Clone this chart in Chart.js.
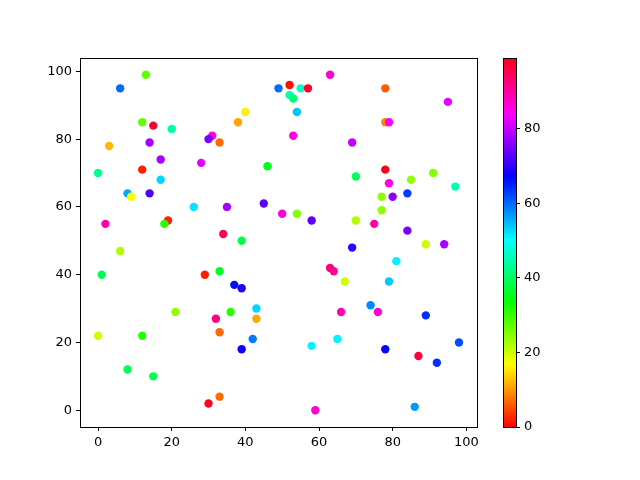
<!DOCTYPE html>
<html><head><meta charset="utf-8">
<script src="https://cdn.jsdelivr.net/npm/chart.js@4/dist/chart.umd.min.js"></script>
<style>
html,body{margin:0;padding:0;background:#fff;}
#wrap{position:relative;width:640px;height:480px;}
canvas{position:absolute;left:0;top:0;}
</style></head>
<body><div id="wrap"><canvas id="main" width="640" height="480"></canvas><canvas id="cb" width="640" height="480"></canvas></div>
<script>
const xs = [13,63,52,6,49,55,57,78,52,53,95,54,40,12,15,38,78,79,20,31,30,53,3,14,33,69,17,28,46,12,78,0,70,91,17,85,79,97,8,9,14,84,77,80,45,26,35,77,50,54,58,19,18,2,70,75,84,34,39,89,94,69,6,81,63,64,33,1,29,67,79,37,39,74,43,21,36,66,76,89,32,43,33,0,12,42,65,98,58,39,78,87,92,8,15,33,30,86,59];
const ys = [99,99,96,95,95,95,95,95,93,92,91,88,88,85,84,85,85,85,83,81,80,81,78,79,79,79,74,73,72,71,71,70,69,70,68,68,67,66,64,63,64,64,63,63,61,60,60,59,58,58,56,56,55,55,56,55,53,52,50,49,49,48,47,44,42,41,41,40,40,38,38,37,36,31,30,29,29,29,29,28,27,27,23,22,22,21,21,20,19,18,18,16,14,12,10,4,2,1,0];
const cs = [27,87,1,60,60,47,98,6,45,41,82,54,16,27,97,11,9,84,44,86,75,86,12,78,7,80,78,82,35,2,99,43,39,25,53,24,86,45,56,17,72,63,24,76,73,52,78,24,86,25,73,2,31,89,22,90,75,95,38,20,78,70,22,51,92,91,36,39,2,20,54,66,69,58,53,24,31,89,87,64,92,11,7,20,31,59,51,62,51,68,67,96,64,39,39,7,98,57,87];
const xTicks = [0,20,40,60,80,100];
const yTicks = [0,20,40,60,80,100];
const cbTicks = [0,20,40,60,80];
const cMin = 0, cMax = 99;

const seg = {
 r:[[0,1],[0.158730,1],[0.174603,0.96875],[0.333333,0.03125],[0.349206,0],[0.666667,0],[0.682540,0.03125],[0.841270,0.96875],[0.857143,1],[1,1]],
 g:[[0,0],[0.158730,0.9375],[0.174603,1],[0.507937,1],[0.666667,0.0625],[0.682540,0],[1,0]],
 b:[[0,0],[0.333333,0],[0.349206,0.0625],[0.507937,1],[0.841270,1],[0.857143,0.9375],[1,0.09375]]
};
function interp(arr,t){
  for(let i=1;i<arr.length;i++){
    if(t<=arr[i][0]){const a=arr[i-1],b=arr[i];const f=(t-a[0])/(b[0]-a[0]||1);return a[1]+(b[1]-a[1])*f;}
  }
  return arr[arr.length-1][1];
}
function hsv(t){
  t=Math.max(0,Math.min(1,t));
  const r=Math.round(interp(seg.r,t)*255),g=Math.round(interp(seg.g,t)*255),b=Math.round(interp(seg.b,t)*255);
  return `rgb(${r},${g},${b})`;
}
const pts = xs.map((x,i)=>({x:x,y:ys[i]}));
const colors = cs.map(c=>hsv((c-cMin)/(cMax-cMin)));
const FONT = {family:'"DejaVu Sans", sans-serif', size:13};

const boxPlugin = {id:'box', afterDraw(chart){
  const a=chart.chartArea,ctx=chart.ctx;
  ctx.save();ctx.strokeStyle='#000';ctx.lineWidth=1;
  ctx.strokeRect(Math.round(a.left)+0.5,Math.round(a.top)+0.5,Math.round(a.right-a.left),Math.round(a.bottom-a.top));
  ctx.restore();
}};

new Chart(document.getElementById('main'),{
  type:'scatter',
  data:{datasets:[{data:pts,backgroundColor:colors,borderWidth:0,pointRadius:4.2,pointHoverRadius:4.2}]},
  options:{
    responsive:false,animation:false,
    layout:{padding:{left:0,top:58,right:163,bottom:0}},
    plugins:{legend:{display:false},tooltip:{enabled:false}},
    scales:{
      x:{type:'linear',min:-4.9,max:102.9,
        afterBuildTicks(s){s.ticks=xTicks.map(v=>({value:v}));},
        afterFit(s){s.height=53;},
        grid:{drawOnChartArea:false,drawTicks:true,tickLength:4,color:'#000'},
        border:{display:true,color:'#000'},
        ticks:{color:'#000',font:FONT,padding:4,maxRotation:0}},
      y:{type:'linear',min:-4.95,max:103.95,
        afterBuildTicks(s){s.ticks=yTicks.map(v=>({value:v}));},
        afterFit(s){s.width=80;},
        grid:{drawOnChartArea:false,drawTicks:true,tickLength:4,color:'#000'},
        border:{display:true,color:'#000'},
        ticks:{color:'#000',font:FONT,padding:4}}
    }
  },
  plugins:[boxPlugin]
});

const gradPlugin = {id:'grad', beforeDatasetsDraw(chart){
  const a=chart.chartArea,ctx=chart.ctx,ys=chart.scales.y;
  const y0=ys.getPixelForValue(cMin), y1=ys.getPixelForValue(cMax);
  const g=ctx.createLinearGradient(0,y0,0,y1);
  for(let i=0;i<=128;i++){g.addColorStop(i/128,hsv(i/128));}
  ctx.save();ctx.fillStyle=g;ctx.fillRect(a.left,a.top,a.right-a.left,a.bottom-a.top);ctx.restore();
}};

new Chart(document.getElementById('cb'),{
  type:'scatter',
  data:{datasets:[{data:[]}]},
  options:{
    responsive:false,animation:false,
    layout:{padding:{left:503,top:58,right:84,bottom:53}},
    plugins:{legend:{display:false},tooltip:{enabled:false}},
    scales:{
      x:{display:false,min:0,max:1},
      y:{type:'linear',position:'right',min:cMin,max:cMax,
        afterBuildTicks(s){s.ticks=cbTicks.map(v=>({value:v}));},
        afterFit(s){s.width=40;},
        grid:{drawOnChartArea:false,drawTicks:true,tickLength:4,color:'#000'},
        border:{display:true,color:'#000'},
        ticks:{color:'#000',font:FONT,padding:4}}
    }
  },
  plugins:[gradPlugin,boxPlugin]
});
</script></body></html>
